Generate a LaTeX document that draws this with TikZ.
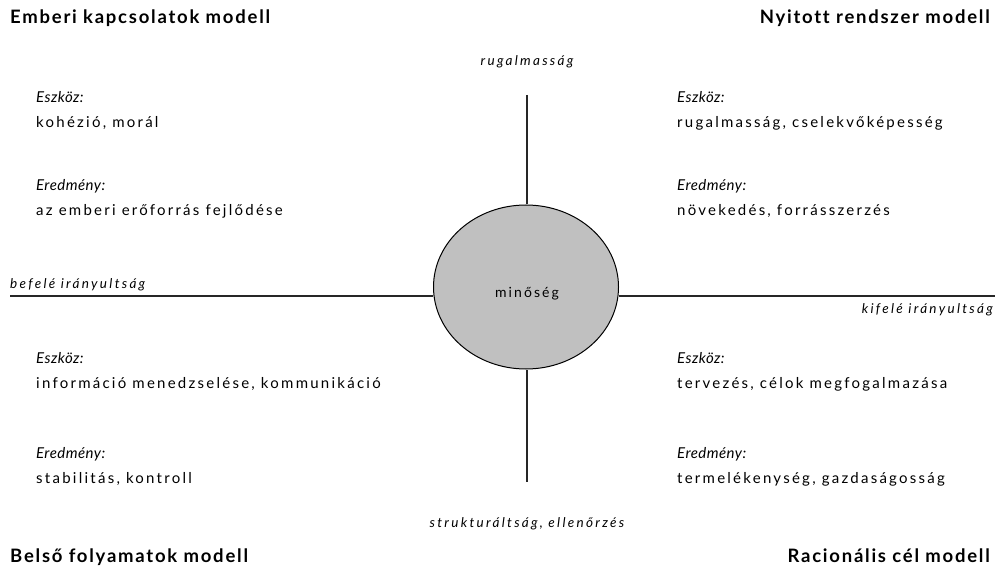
\documentclass[tikz,border=0pt]{standalone}
\usepackage{fontspec}
\setmainfont{Lato}
\newfontfamily\bodyfont[LetterSpace=15]{Lato}
\newfontfamily\itfont[LetterSpace=17]{Lato Italic}
\newfontfamily\headfont[LetterSpace=3]{Lato Italic}
\newfontfamily\titlefont[LetterSpace=9.5,Ligatures=NoCommon]{Lato Bold}
\definecolor{circgray}{RGB}{192,192,192}
\tikzset{
  title/.style={inner sep=0pt, font=\titlefont\fontsize{18.5}{20}\selectfont},
  axislbl/.style={inner sep=0pt, font=\itfont\fontsize{13.5}{15}\selectfont},
  head/.style={inner sep=0pt, anchor=base west, font=\headfont\fontsize{15}{17}\selectfont},
  body/.style={inner sep=0pt, anchor=base west, font=\bodyfont\fontsize{15}{17}\selectfont},
  axis/.style={line width=1.5pt, black!85},
  center/.style={ellipse, draw=black, line width=1pt, fill=circgray, minimum width=185pt, minimum height=164pt, inner sep=0pt}
}
\usetikzlibrary{shapes.geometric}
\begin{document}
\begin{tikzpicture}[x=1pt,y=-1pt]
\useasboundingbox (0,0) rectangle (995,569);
% centre
\node[center] (q) at (526,287) {};
\node[inner sep=0pt, anchor=base, font=\bodyfont\fontsize{14}{16}\selectfont] (ql) at (527,297) {minőség};
% axes
\coordinate (T) at (527,95);
\coordinate (B) at (527,482);
\coordinate (L) at (10,296);
\coordinate (R) at (995,296);
\draw[axis] (T) -- (T |- q.north);
\draw[axis] (T |- q.south) -- (B);
\draw[axis] (L) -- (L -| q.west);
\draw[axis] (R) -- (R -| q.east);
% axis labels
\node[axislbl, anchor=base] (top) at (527,66) {rugalmasság};
\node[axislbl, anchor=base] (bot) at (527,527) {strukturáltság, ellenőrzés};
\node[axislbl, anchor=base west] (lft) at (10,288) {befelé irányultság};
\node[axislbl, anchor=base east] (rgt) at (993,313) {kifelé irányultság};
% titles
\node[title, anchor=base west] (t1) at (10,24) {Emberi kapcsolatok modell};
\node[title, anchor=base east] (t2) at (990,24) {Nyitott rendszer modell};
\node[title, anchor=base west] (t3) at (10,562) {Belső folyamatok modell};
\node[title, anchor=base east] (t4) at (990,562) {Racionális cél modell};
% top left
\node[head] (a1) at (36,103) {Eszköz:};
\node[body] (a2) at (36,128) {kohézió, morál};
\node[head] (a3) at (36,191) {Eredmény:};
\node[body] (a4) at (36,216) {az emberi erőforrás fejlődése};
% top right
\node[head] (b1) at (677,103) {Eszköz:};
\node[body] (b2) at (677,128) {rugalmasság, cselekvőképesség};
\node[head] (b3) at (677,191) {Eredmény:};
\node[body] (b4) at (677,216) {növekedés, forrásszerzés};
% bottom left
\node[head] (c1) at (36,363) {Eszköz:};
\node[body] (c2) at (36,388) {információ menedzselése, kommunikáció};
\node[head] (c3) at (36,458) {Eredmény:};
\node[body] (c4) at (36,483) {stabilitás, kontroll};
% bottom right
\node[head] (d1) at (677,363) {Eszköz:};
\node[body] (d2) at (677,388) {tervezés, célok megfogalmazása};
\node[head] (d3) at (677,458) {Eredmény:};
\node[body] (d4) at (677,483) {termelékenység, gazdaságosság};
\end{tikzpicture}
\end{document}
